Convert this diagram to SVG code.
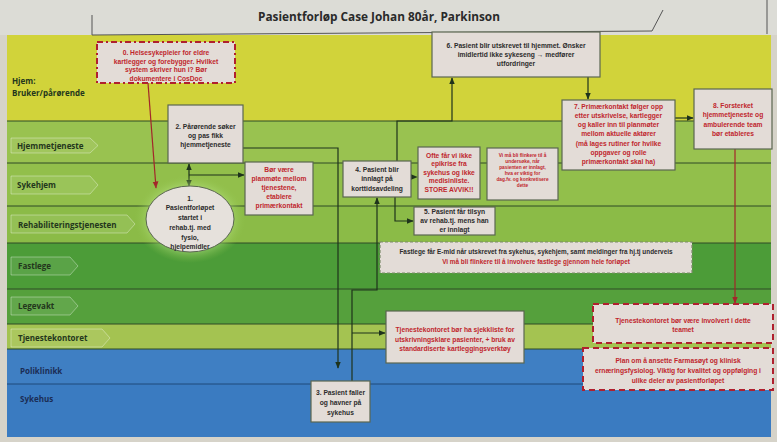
<svg xmlns="http://www.w3.org/2000/svg" width="777" height="442" viewBox="0 0 777 442">
<defs>
<style>
.lbl{font-family:"Open Sans","Liberation Sans",sans-serif;font-weight:bold;font-size:8px;fill:#23361c}
.lblb{font-family:"Open Sans","Liberation Sans",sans-serif;font-weight:bold;font-size:8px;fill:#1b2d55}
.t{font-family:"Liberation Sans","Open Sans",sans-serif;font-weight:bold;font-size:6.7px;text-anchor:middle;fill:#2b2b2b}
.r{font-family:"Liberation Sans","Open Sans",sans-serif;font-weight:bold;font-size:6.7px;text-anchor:middle;fill:#c0262d}
.rs{font-family:"Liberation Sans","Open Sans",sans-serif;font-weight:bold;font-size:4.8px;text-anchor:middle;fill:#c0262d}
.f{font-size:6.4px}
.box{fill:#e3dcd7;stroke:#5a6650;stroke-width:1.2}
.rbox{fill:#e3dcd7;stroke:#b0202e;stroke-width:2;stroke-dasharray:6 4}
.gbox{fill:#e3dcd7;stroke:#7c8a6a;stroke-width:1.2;stroke-dasharray:3 2}
.tab{fill:rgba(255,255,255,0.08);stroke:rgba(255,255,255,0.35);stroke-width:1}
.div{stroke:#2f4a26;stroke-width:1}
.c{fill:none;stroke:#1e331c;stroke-width:1.2}
.cr{fill:none;stroke:#a3262a;stroke-width:1.2}
</style>
<marker id="a" viewBox="0 0 10 10" refX="9" refY="5" markerWidth="6" markerHeight="6" orient="auto-start-reverse"><path d="M0,1 L10,5 L0,9 z" fill="#1e331c"/></marker>
<marker id="ar" viewBox="0 0 10 10" refX="9" refY="5" markerWidth="6" markerHeight="6" orient="auto"><path d="M0,1 L10,5 L0,9 z" fill="#a3262a"/></marker>
<radialGradient id="glow" cx="0.5" cy="0.5" r="0.5">
<stop offset="0.6" stop-color="#c8f09a" stop-opacity="0.8"/>
<stop offset="1" stop-color="#8fc24a" stop-opacity="0"/>
</radialGradient>
</defs>

<!-- background -->
<rect x="0" y="0" width="777" height="442" fill="#d6d3c9"/>
<rect x="0" y="0" width="777" height="35" fill="#dcdcd6"/>
<g id="lanes">
<rect x="7" y="35" width="764" height="86" fill="#d1d33a"/>
<rect x="7" y="121" width="764" height="42" fill="#99c250"/>
<rect x="7" y="163" width="764" height="43" fill="#92bf4b"/>
<rect x="7" y="206" width="764" height="37" fill="#8bbb47"/>
<rect x="7" y="243" width="764" height="46" fill="#4c9c38"/>
<rect x="7" y="289" width="764" height="35" fill="#55a03c"/>
<rect x="7" y="324" width="764" height="25" fill="#a4c351"/>
<rect x="7" y="349" width="764" height="35" fill="#3f7fc3"/>
<rect x="7" y="384" width="764" height="53" fill="#3a7bc1"/>
<line class="div" x1="7" y1="121" x2="771" y2="121"/>
<line class="div" x1="7" y1="163" x2="771" y2="163"/>
<line class="div" x1="7" y1="206" x2="771" y2="206"/>
<line class="div" x1="7" y1="243" x2="771" y2="243"/>
<line class="div" x1="7" y1="289" x2="771" y2="289"/>
<line class="div" x1="7" y1="324" x2="771" y2="324"/>
<line class="div" x1="7" y1="349" x2="771" y2="349"/>
<line x1="7" y1="384" x2="771" y2="384" stroke="#1f4a7a" stroke-width="1"/>
</g>

<!-- header -->
<g id="header">
<polyline points="92,15 92,35 652,31 663,10" fill="none" stroke="#555" stroke-width="1"/>
<line x1="767" y1="0" x2="767" y2="34" stroke="#555" stroke-width="1"/>
<text x="379" y="21" font-family="'Open Sans','Liberation Sans',sans-serif" font-weight="bold" font-size="11.8" text-anchor="middle" fill="#2a2a2a">Pasientforløp Case Johan 80år, Parkinson</text>
</g>

<!-- lane labels -->
<g id="lane-labels">
<text class="lbl" x="12" y="84">Hjem:</text>
<text class="lbl" x="12" y="96">Bruker/pårørende</text>
<path class="tab" d="M11,138 H90 L98,145.5 L90,153 H11 z"/>
<text class="lbl" x="17" y="149">Hjemmetjeneste</text>
<path class="tab" d="M11,176 H90 L98,185 L90,194 H11 z"/>
<text class="lbl" x="17" y="188">Sykehjem</text>
<path class="tab" d="M11,215 H127 L135,224 L127,233 H11 z"/>
<text class="lbl" x="18" y="228">Rehabiliteringstjenesten</text>
<path class="tab" d="M11,257 H70 L78,266 L70,275 H11 z"/>
<text class="lbl" x="18" y="269">Fastlege</text>
<path class="tab" d="M11,297 H70 L78,306 L70,315 H11 z"/>
<text class="lbl" x="18" y="309">Legevakt</text>
<path class="tab" d="M11,329 H102 L110,338 L102,347 H11 z"/>
<text class="lbl" x="18" y="341">Tjenestekontoret</text>
<text class="lblb" x="20" y="374">Poliklinikk</text>
<text class="lblb" x="20" y="402">Sykehus</text>
</g>

<!-- connectors -->
<g id="connectors">
<line class="cr" x1="148" y1="83" x2="156" y2="188" marker-end="url(#ar)"/>
<line class="c" x1="189" y1="164" x2="189" y2="186" stroke-width="2" marker-start="url(#a)" marker-end="url(#a)"/>
<line class="c" x1="189" y1="175" x2="244" y2="175" marker-end="url(#a)"/>
<polyline class="c" points="243,148 338,148 338,368" marker-end="url(#a)"/>
<polyline class="c" points="352,381 352,290 377,290 377,198" marker-end="url(#a)"/>
<line class="c" x1="352" y1="333" x2="385" y2="333" marker-end="url(#a)"/>
<polyline class="c" points="397,161 397,121 452,121 452,78" marker-end="url(#a)"/>
<line class="c" x1="588" y1="77" x2="588" y2="99" marker-end="url(#a)"/>
<line class="c" x1="675" y1="118" x2="693" y2="118" marker-end="url(#a)"/>
<line class="cr" x1="735" y1="149" x2="735" y2="303" marker-end="url(#ar)"/>
<line class="c" x1="402" y1="177" x2="417" y2="177" stroke-dasharray="3 2" marker-end="url(#a)"/>
<polyline class="c" points="395,197 395,221 413,221" marker-end="url(#a)"/>
</g>

<!-- nodes -->
<g id="n0">
<rect class="rbox" x="97" y="42" width="138" height="41" style="stroke-dasharray:6 3 2 3"/>
<text class="r" x="166" y="55">0. Helsesykepleier for eldre</text>
<text class="r" x="166" y="63.5">kartlegger og forebygger. Hvilket</text>
<text class="r" x="166" y="72">system skriver hun i? Bør</text>
<text class="r" x="166" y="80.5">dokumentere i CosDoc</text>
</g>
<g id="n2">
<rect class="box" x="168" y="105" width="75" height="58"/>
<text class="t" x="205.5" y="129">2. Pårørende søker</text>
<text class="t" x="205.5" y="138">og pas fikk</text>
<text class="t" x="205.5" y="147">hjemmetjeneste</text>
</g>
<g id="n-planmote">
<rect class="box" x="245" y="162" width="68" height="53"/>
<text class="r" x="279" y="172">Bør være</text>
<text class="r" x="279" y="181">planmøte mellom</text>
<text class="r" x="279" y="190">tjenestene,</text>
<text class="r" x="279" y="199">etablere</text>
<text class="r" x="279" y="208">primærkontakt</text>
</g>
<g id="n1">
<ellipse cx="190" cy="219" rx="56" ry="44" fill="url(#glow)"/>
<ellipse cx="190" cy="219" rx="44" ry="33" fill="#e6e1dc" stroke="#5a6650" stroke-width="1"/>
<text class="t" x="190" y="200.5">1.</text>
<text class="t" x="190" y="209.5">Pasientforløpet</text>
<text class="t" x="190" y="219.5">startet i</text>
<text class="t" x="190" y="229.5">rehab.tj. med</text>
<text class="t" x="190" y="239.5">fysio,</text>
<text class="t" x="190" y="248.5">hjelpemidler</text>
</g>
<g id="n3">
<rect class="box" x="311" y="381" width="59" height="41"/>
<text class="t" x="340.5" y="394.5">3. Pasient faller</text>
<text class="t" x="340.5" y="404.5">og havner på</text>
<text class="t" x="340.5" y="414.5">sykehus</text>
</g>
<g id="n4">
<rect class="box" x="343" y="161" width="68" height="36"/>
<text class="t" x="377" y="172">4. Pasient blir</text>
<text class="t" x="377" y="181">innlagt på</text>
<text class="t" x="377" y="191">korttidsavdeling</text>
</g>
<g id="n-epikrise">
<rect class="box" x="418" y="147" width="62" height="52"/>
<text class="r" x="449" y="157.5">Ofte får vi ikke</text>
<text class="r" x="449" y="166">epikrise fra</text>
<text class="r" x="449" y="174.5">sykehus og ikke</text>
<text class="r" x="449" y="183">medisinliste.</text>
<text class="r" x="449" y="191.5">STORE AVVIK!!</text>
</g>
<g id="n-flinkere">
<rect class="box" x="487" y="148" width="71" height="52"/>
<text class="rs" x="522.5" y="157">Vi må bli flinkere til å</text>
<text class="rs" x="522.5" y="163">undersøke, når</text>
<text class="rs" x="522.5" y="169">pasienten er innlagt,</text>
<text class="rs" x="522.5" y="175">hva er viktig for</text>
<text class="rs" x="522.5" y="181">dag.fv. og konkretisere</text>
<text class="rs" x="522.5" y="187">dette</text>
</g>
<g id="n5">
<rect class="box" x="414" y="207" width="81" height="28"/>
<text class="t" x="454.5" y="214">5. Pasient får tilsyn</text>
<text class="t" x="454.5" y="223">av rehab.tj. mens han</text>
<text class="t" x="454.5" y="232">er innlagt</text>
</g>
<g id="n6">
<rect class="box" x="432" y="32" width="168" height="45"/>
<text class="t" x="516" y="47.5">6. Pasient blir utskrevet til hjemmet. Ønsker</text>
<text class="t" x="516" y="56.5">imidlertid ikke sykeseng → medfører</text>
<text class="t" x="516" y="66">utfordringer</text>
</g>
<g id="n7">
<rect class="box" x="562" y="100" width="113" height="70"/>
<text class="r" x="618.5" y="108.5">7. Primærkontakt følger opp</text>
<text class="r" x="618.5" y="118">etter utskrivelse, kartlegger</text>
<text class="r" x="618.5" y="127">og kaller inn til planmøter</text>
<text class="r" x="618.5" y="136">mellom aktuelle aktører</text>
<text class="r" x="618.5" y="145.5">(må lages rutiner for hvilke</text>
<text class="r" x="618.5" y="155">oppgaver og rolle</text>
<text class="r" x="618.5" y="164">primærkontakt skal ha)</text>
</g>
<g id="n8">
<rect class="box" x="694" y="89" width="78" height="60"/>
<text class="r" x="733" y="107.5">8. Forsterket</text>
<text class="r" x="733" y="117">hjemmetjeneste og</text>
<text class="r" x="733" y="126.5">ambulerende team</text>
<text class="r" x="733" y="136">bør etableres</text>
</g>
<g id="n-fastlege">
<rect class="gbox" x="380" y="242" width="312" height="31"/>
<text class="t f" x="536" y="253.5">Fastlege får E-mld når utskrevet fra sykehus, sykehjem, samt meldinger fra hj.tj underveis</text>
<text class="r f" x="536" y="263.5">Vi må bli flinkere til å involvere fastlege gjennom hele forløpet</text>
</g>
<g id="n-sjekkliste">
<rect class="box" x="386" y="311" width="138" height="52"/>
<text class="r" x="455" y="332">Tjenestekontoret bør ha sjekkliste for</text>
<text class="r" x="455" y="341.5">utskrivningsklare pasienter, + bruk av</text>
<text class="r" x="455" y="351">standardiserte kartleggingsverktøy</text>
</g>
<g id="n-involvert">
<rect class="rbox" x="593" y="304" width="180" height="39"/>
<text class="r" x="683" y="322.5">Tjenestekontoret bør være involvert i dette</text>
<text class="r" x="683" y="332">teamet</text>
</g>
<g id="n-plan">
<rect class="rbox" x="583" y="348" width="190" height="42"/>
<text class="r" x="678" y="362.5">Plan om å ansette Farmasøyt og klinisk</text>
<text class="r" x="678" y="372.5">ernæringsfysiolog. Viktig for kvalitet og oppfølging i</text>
<text class="r" x="678" y="382.5">ulike deler av pasientforløpet</text>
</g>
</svg>
